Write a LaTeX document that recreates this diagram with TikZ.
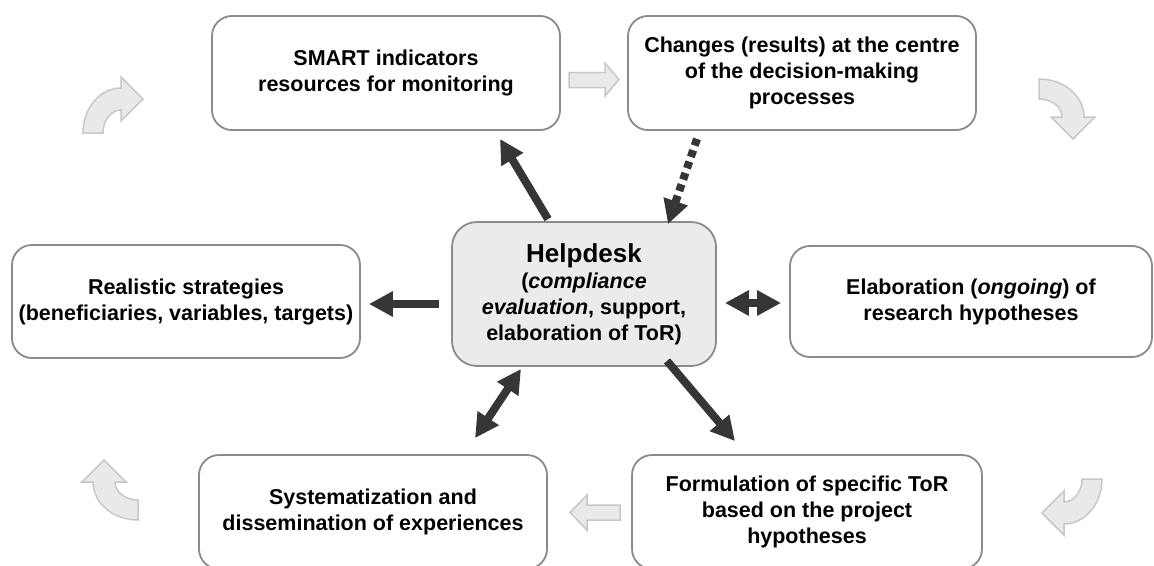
\documentclass[tikz,border=0pt]{standalone}
\usepackage{fontspec}
\setmainfont{Liberation Sans}
\usetikzlibrary{arrows.meta,calc}
\definecolor{boxline}{HTML}{8A8A8A}
\definecolor{hdfill}{HTML}{EBEBEB}
\definecolor{arrowdark}{HTML}{363636}
\definecolor{ghostfill}{HTML}{E9E9E9}
\definecolor{ghostline}{HTML}{C8C8C8}
\newcommand{\ghostcurve}[3]{%
  \begin{scope}[shift={(#1,#2)}, rotate=#3]
    \filldraw[ghost] (-38,0) .. controls (-38,-24.9) and (-21,-45) .. (0,-45)
      -- (0,-56) -- (22,-34) -- (0,-12) -- (0,-23)
      .. controls (-9.9,-23) and (-18,-12.7) .. (-18,0) -- cycle;
  \end{scope}}
\begin{document}
\begin{tikzpicture}[x=1pt,y=-1pt,
  box/.style={draw=boxline, line width=1.8pt, fill=white, rounded corners=20pt,
    align=center, inner sep=2pt, minimum width=348pt, minimum height=114pt,
    font=\fontsize{21.5}{26}\selectfont\bfseries},
  hdbox/.style={box, fill=hdfill, rounded corners=25pt, minimum width=264pt, minimum height=144pt},
  link/.style={draw=arrowdark, line width=8pt, -{Triangle[length=24pt,width=24pt]}},
  dlink/.style={draw=arrowdark, line width=8pt, {Triangle[length=24pt,width=24pt]}-{Triangle[length=24pt,width=24pt]}},
  ghost/.style={fill=ghostfill, draw=ghostline, line width=1.5pt, line join=miter}
]
\useasboundingbox (0,0) rectangle (1154,565);

\node[box] (smart) at (386,73) {SMART indicators\\resources for monitoring};
\node[box] (changes) at (802,73) {Changes (results) at the centre\\of the decision-making\\processes};
\node[box, minimum height=113pt] (realistic) at (186,301.5) {Realistic strategies\\(beneficiaries, variables, targets)};
\node[hdbox] (help) at (584,294) {{\fontsize{26}{26}\selectfont Helpdesk}\\(\textit{compliance}\\\textit{evaluation}, support,\\elaboration of ToR)};
\node[box, minimum width=362pt, minimum height=111pt] (elab) at (971,301.5) {Elaboration (\textit{ongoing}) of\\research hypotheses};
\node[box] (syst) at (373,512) {Systematization and\\dissemination of experiences};
\node[box, minimum width=350pt] (form) at (807,512) {Formulation of specific ToR\\based on the project\\hypotheses};

% connectors
\draw[link] ($(help.north)+(-36,-2)$) -- ($(smart.south)+(114,8)$);
\draw[link, dash pattern=on 7pt off 5pt] ($(changes.south)+(-105,8)$) -- ($(help.north)+(84,3)$);
\draw[link] ($(help.west)+(-12,10)$) -- ($(realistic.east)+(8,2.5)$);
\draw[dlink] ($(help.east)+(8,9)$) -- ($(elab.west)+(-8,1.5)$);
\draw[dlink] ($(help.south)+(-63,2)$) -- ($(syst.north)+(102,-16)$);
\draw[link] ($(help.south)+(83,-6)$) -- ($(form.north)+(-72,-13)$);

% ghost straight arrows
\filldraw[ghost] (569,72.5) -- (605,72.5) -- (605,63) -- (619,79.5) -- (605,96) -- (605,87.5) -- (569,87.5) -- cycle;
\filldraw[ghost] (620,505) -- (587,505) -- (587,495) -- (570,512.5) -- (587,530) -- (587,520) -- (620,520) -- cycle;

% ghost curved arrows
\ghostcurve{121}{133}{0}
\ghostcurve{1039}{117}{-90}
\ghostcurve{1064}{479}{180}
\ghostcurve{138}{482}{90}
\end{tikzpicture}
\end{document}
